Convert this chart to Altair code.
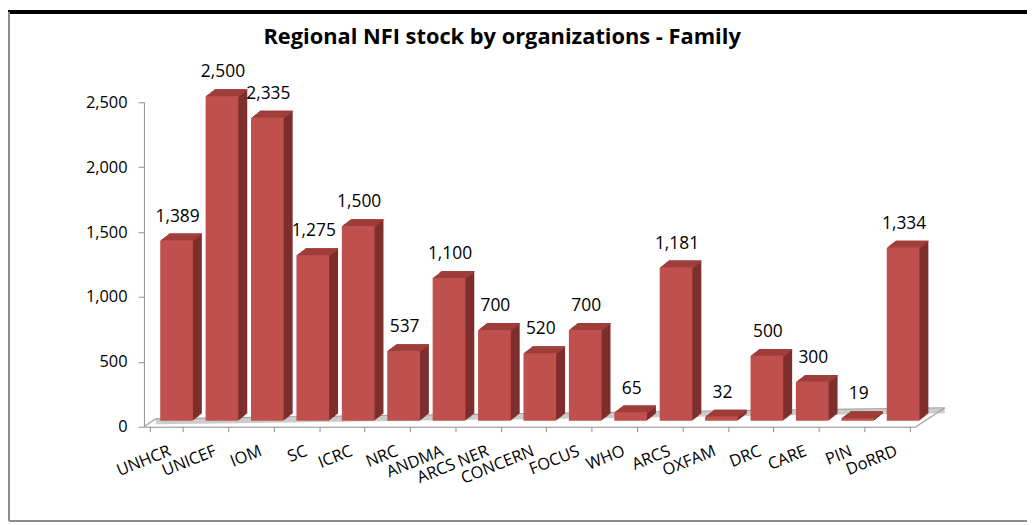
import altair as alt
import pandas as pd

# ---- data ----
orgs = ["UNHCR", "UNICEF", "IOM", "SC", "ICRC", "NRC", "ANDMA", "ARCS NER",
        "CONCERN", "FOCUS", "WHO", "ARCS", "OXFAM", "DRC", "CARE", "PIN", "DoRRD"]
stock = [1389, 2500, 2335, 1275, 1500, 537, 1100, 700, 520, 700, 65, 1181, 32,
         500, 300, 19, 1334]
y_ticks = [0, 500, 1000, 1500, 2000, 2500]
title_text = "Regional NFI stock by organizations - Family"

# ---- styling ----
FRONT = "#c0504d"
TOP = "#a8423f"
SIDE = "#7e2f2d"
AXIS_GREY = "#8f8f8f"
FONT = "Open Sans"
W, H = 778, 327
PAD_L, PAD_T = 137, 93
DX, DY = 10, -6  # shift of the bars onto the floor
DEPTH = 9

df = pd.DataFrame({"org": orgs, "stock": stock})
one = pd.DataFrame({"k": [0]})

x_enc = alt.X(
    "org:N", sort=orgs, title=None,
    scale=alt.Scale(paddingInner=0.28, paddingOuter=0.14),
    axis=alt.Axis(tickBand="extent", tickSize=5, tickColor=AXIS_GREY,
                  domainColor=AXIS_GREY, labelAngle=-22, labelAlign="right",
                  labelBaseline="top", labelPadding=11, labelFontSize=16.5,
                  labelFont=FONT, labelColor="#000000", labelOverlap=False,
                  labelBound=False, labelFlush=False, grid=False),
)
y_enc = alt.Y(
    "stock:Q", title=None,
    scale=alt.Scale(domain=[0, 2500], nice=False, zero=True),
    axis=alt.Axis(values=y_ticks, labelExpr="format(datum.value, ',.0f')",
                  grid=False, tickSize=6,
                  tickColor=AXIS_GREY, domainColor=AXIS_GREY, labelPadding=11,
                  labelFontSize=16.5, labelFont=FONT, labelColor="#000000"),
)

layers = []

# floor (decoration)
layers.append(alt.Chart(one).mark_rule(color="#cccccc", strokeWidth=5).encode(
    x=alt.value(12), y=alt.value(322), x2=alt.value(807), y2=alt.value(311)))
for (a, b, c, d) in [(0, 327, 12, 319), (12, 319, 807, 308), (778, 327, 807, 308)]:
    layers.append(alt.Chart(one).mark_rule(color="#a0a0a0", strokeWidth=1.2).encode(
        x=alt.value(a), y=alt.value(b), x2=alt.value(c), y2=alt.value(d)))

base = alt.Chart(df)

# 3D extrusion of bars
for k in range(DEPTH, 0, -1):
    off_y = DY - 0.78 * k
    layers.append(base.mark_bar(color=SIDE, xOffset=DX + k, yOffset=off_y,
                                y2Offset=off_y).encode(x=x_enc, y=y_enc))
    layers.append(base.mark_bar(color=TOP, xOffset=DX + k, yOffset=off_y,
                                y2Offset=off_y + 1.3).encode(
        x=x_enc, y=y_enc, y2=alt.Y2("stock:Q")))

# front faces
layers.append(base.mark_bar(color=FRONT, xOffset=DX, yOffset=DY,
                            y2Offset=DY).encode(x=x_enc, y=y_enc))

# value labels
layers.append(base.mark_text(font=FONT, fontSize=17.5, color="#000000",
                             baseline="alphabetic", xOffset=DX + 1,
                             yOffset=DY - 19).encode(
    x=x_enc, y=y_enc, text=alt.Text("stock:Q", format=",")))

# chart title
layers.append(alt.Chart(one).mark_text(font=FONT, fontSize=22, fontWeight="bold",
                                       color="#000000", baseline="alphabetic",
                                       align="center").encode(
    x=alt.value(361), y=alt.value(-59), text=alt.value(title_text)))

# frame (decoration)
layers.append(alt.Chart(one).mark_rule(color="#000000", strokeWidth=4).encode(
    x=alt.value(-137), x2=alt.value(890), y=alt.value(-91), y2=alt.value(-91)))
layers.append(alt.Chart(one).mark_rule(color="#8c8c8c", strokeWidth=2).encode(
    x=alt.value(-136), x2=alt.value(-136), y=alt.value(-91), y2=alt.value(422)))
layers.append(alt.Chart(one).mark_rule(color="#8c8c8c", strokeWidth=2).encode(
    x=alt.value(-136), x2=alt.value(890), y=alt.value(422), y2=alt.value(422)))

chart = alt.layer(*layers).properties(
    width=W, height=H,
    background="white",
    autosize=alt.AutoSizeParams(type="none"),
    padding={"left": PAD_L, "top": PAD_T, "right": 1027 - PAD_L - W,
             "bottom": 517 - PAD_T - H},
).configure_view(stroke=None, strokeWidth=0)

chart.save("out.html", embed_options={"renderer": "svg", "actions": False})
